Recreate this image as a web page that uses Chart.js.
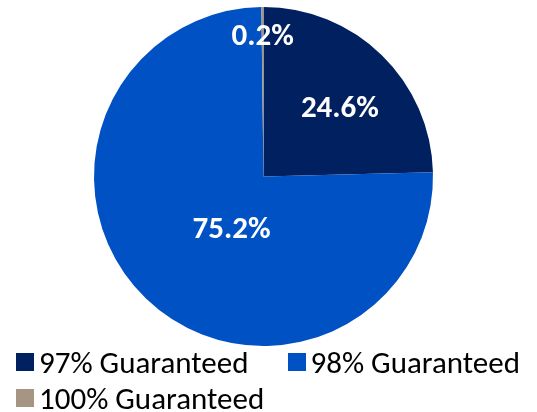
<!DOCTYPE html>
<html>
<head>
<meta charset="utf-8">
<script src="https://cdn.jsdelivr.net/npm/chart.js@4"></script>
<style>
  html, body { margin: 0; padding: 0; background: #fff; }
  #wrap { position: relative; width: 537px; height: 412px; }
  #pieChart { display: block; }
  #legend {
    position: absolute; left: 16px; top: 344px; width: 521px;
    display: flex; flex-wrap: wrap; column-gap: 39px;
    font-family: Carlito, Lato, sans-serif; font-size: 31px; color: #000;
  }
  .item { display: flex; align-items: center; height: 36px; white-space: nowrap; }
  .box { width: 18px; height: 18px; margin-right: 5px; }
</style>
</head>
<body>
<div id="wrap">
  <canvas id="pieChart" width="537" height="350"></canvas>
  <div id="legend"></div>
</div>
<script>
// Dados do gráfico
const categories = ['97% Guaranteed', '98% Guaranteed', '100% Guaranteed'];
const shares = [24.6, 75.2, 0.2];
const colors = ['#002060', '#0052C4', '#A59582'];

// posição dos rótulos dentro de cada fatia (fração do ângulo, fração do raio)
const labelAngleFrac = [0.55, 0.452, 0.5];
const labelRadiusFrac = [0.6, 0.367, 0.82];

const pieLabels = {
    id: 'pieLabels',
    afterDatasetsDraw(chart) {
        const ctx = chart.ctx;
        const meta = chart.getDatasetMeta(0);
        ctx.save();
        ctx.font = 'bold 31px Carlito, Lato, sans-serif';
        ctx.fillStyle = '#fff';
        ctx.textAlign = 'center';
        ctx.textBaseline = 'middle';
        meta.data.forEach((arc, i) => {
            const a = arc.startAngle + (arc.endAngle - arc.startAngle) * labelAngleFrac[i];
            const r = arc.outerRadius * labelRadiusFrac[i];
            ctx.fillText(shares[i].toFixed(1) + '%', arc.x + Math.cos(a) * r, arc.y + Math.sin(a) * r);
        });
        ctx.restore();
    }
};

const pieChartContext = document.getElementById('pieChart').getContext('2d');
const pieChart = new Chart(pieChartContext, {
    type: 'pie',
    data: {
        labels: categories,
        datasets: [{
            data: shares,
            backgroundColor: colors,
            borderWidth: 0
        }]
    },
    options: {
        responsive: false,
        animation: false,
        layout: { padding: { top: 7, bottom: 4, left: 0, right: 10 } },
        plugins: {
            legend: { display: false },
            tooltip: { enabled: false }
        }
    },
    plugins: [pieLabels]
});

// Legenda
const legend = document.getElementById('legend');
categories.forEach((name, i) => {
    const item = document.createElement('div');
    item.className = 'item';
    const box = document.createElement('span');
    box.className = 'box';
    box.style.background = colors[i];
    const txt = document.createElement('span');
    txt.textContent = name;
    item.appendChild(box);
    item.appendChild(txt);
    legend.appendChild(item);
});
</script>
</body>
</html>
